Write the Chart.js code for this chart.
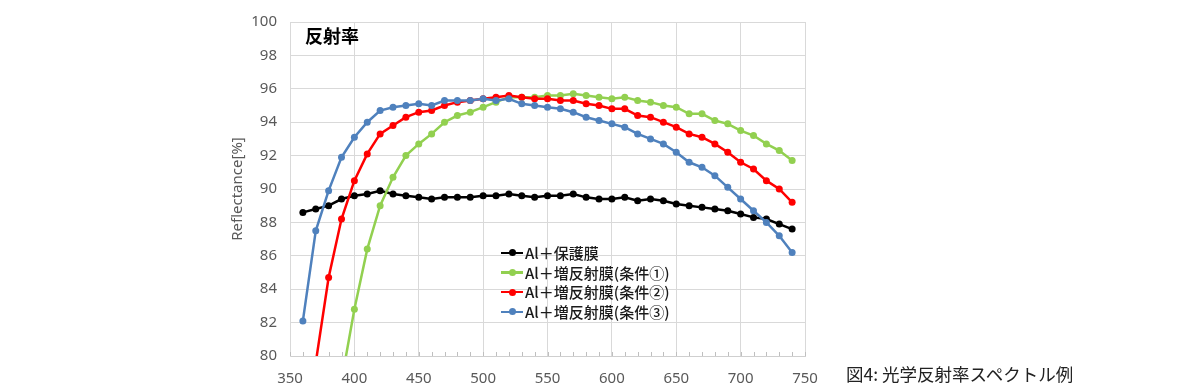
<!DOCTYPE html>
<html>
<head>
<meta charset="utf-8">
<script src="https://cdn.jsdelivr.net/npm/chart.js@4.4.0/dist/chart.umd.min.js"></script>
<style>
    body { margin: 0; background: #ffffff; }
    #wrap { position: relative; width: 1200px; height: 390px; }
    #plotTitle { position: absolute; left: 305px; top: 22px; font: bold 18px "Noto Sans CJK JP"; color: #000; }
    #caption { position: absolute; left: 846px; top: 361px; font: 17.5px "Noto Sans CJK JP"; color: #222; }
    #legend { position: absolute; left: 501px; top: 243px; font: 500 15px "Noto Sans CJK JP"; color: #1a1a1a; }
    .item { height: 19.7px; line-height: 19.7px; white-space: nowrap; }
    .mark { display: inline-block; position: relative; width: 22px; height: 19.7px; vertical-align: top; margin-right: 2px; }
    .mark .ln { position: absolute; left: 0; right: 0; top: 8.6px; height: 2.5px; }
    .mark .dot { position: absolute; left: 7.5px; top: 6.4px; width: 7px; height: 7px; border-radius: 50%; }
</style>
</head>
<body>
<div id="wrap">
    <canvas id="chart"></canvas>
    <div id="plotTitle">反射率</div>
    <div id="legend"></div>
    <div id="caption">図4: 光学反射率スペクトル例</div>
</div>
<script>
// wavelength [nm]
var wavelengths = [360, 370, 380, 390, 400, 410, 420, 430, 440, 450,
    460, 470, 480, 490, 500, 510, 520, 530, 540, 550,
    560, 570, 580, 590, 600, 610, 620, 630, 640, 650,
    660, 670, 680, 690, 700, 710, 720, 730, 740];

var seriesNames = ["Al＋保護膜", "Al＋増反射膜(条件①)", "Al＋増反射膜(条件②)", "Al＋増反射膜(条件③)"];
var seriesColors = ["#000000", "#92d050", "#ff0000", "#4f81bd"];

var protect = [88.6, 88.8, 89.0, 89.4, 89.6, 89.7, 89.9, 89.7, 89.6, 89.5,
    89.4, 89.5, 89.5, 89.5, 89.6, 89.6, 89.7, 89.6, 89.5, 89.6,
    89.6, 89.7, 89.5, 89.4, 89.4, 89.5, 89.3, 89.4, 89.3, 89.1,
    89.0, 88.9, 88.8, 88.7, 88.5, 88.3, 88.2, 87.9, 87.6];
var cond1 = [null, null, null, 78.5, 82.8, 86.4, 89.0, 90.7, 92.0, 92.7,
    93.3, 94.0, 94.4, 94.6, 94.9, 95.2, 95.5, 95.5, 95.5, 95.6,
    95.6, 95.7, 95.6, 95.5, 95.4, 95.5, 95.3, 95.2, 95.0, 94.9,
    94.5, 94.5, 94.1, 93.9, 93.5, 93.2, 92.7, 92.3, 91.7];
var cond2 = [null, 79.6, 84.7, 88.2, 90.5, 92.1, 93.3, 93.8, 94.3, 94.6,
    94.7, 95.0, 95.2, 95.3, 95.4, 95.5, 95.6, 95.5, 95.4, 95.4,
    95.3, 95.3, 95.1, 95.0, 94.8, 94.8, 94.4, 94.3, 94.0, 93.7,
    93.3, 93.1, 92.7, 92.2, 91.6, 91.2, 90.5, 90.0, 89.2];
var cond3 = [82.1, 87.5, 89.9, 91.9, 93.1, 94.0, 94.7, 94.9, 95.0, 95.1,
    95.0, 95.3, 95.3, 95.3, 95.4, 95.3, 95.4, 95.1, 95.0, 94.9,
    94.8, 94.6, 94.3, 94.1, 93.9, 93.7, 93.3, 93.0, 92.7, 92.2,
    91.6, 91.3, 90.8, 90.1, 89.4, 88.7, 88.0, 87.2, 86.2];

var seriesValues = [protect, cond1, cond2, cond3];

var datasets = [];
for (var i = 0; i < seriesValues.length; i++) {
    datasets.push({
        label: seriesNames[i],
        data: wavelengths.map(function (w, j) { return { x: w, y: seriesValues[i][j] }; }),
        borderColor: seriesColors[i],
        backgroundColor: seriesColors[i],
        borderWidth: 2.5,
        pointRadius: 3.5,
        pointHoverRadius: 3.5,
        pointBorderWidth: 0,
        clip: 0,
        order: seriesValues.length - i   // later series drawn on top, like Excel
    });
}

// legend inside the plot
var legendHtml = "";
for (var k = 0; k < seriesNames.length; k++) {
    legendHtml += '<div class="item"><span class="mark"><span class="ln" style="background:' + seriesColors[k] +
        '"></span><span class="dot" style="background:' + seriesColors[k] + '"></span></span>' + seriesNames[k] + '</div>';
}
document.getElementById("legend").innerHTML = legendHtml;

// small tick marks on the inside of the x axis, every 10 nm
var innerTicks = {
    id: "innerTicks",
    beforeDatasetsDraw: function (chart) {
        var ctx = chart.ctx, xs = chart.scales.x, bottom = chart.chartArea.bottom;
        ctx.save();
        ctx.strokeStyle = "#bfbfbf";
        ctx.lineWidth = 1;
        ctx.beginPath();
        xs.ticks.forEach(function (t) {
            var px = Math.round(xs.getPixelForValue(t.value)) + 0.5;
            ctx.moveTo(px, bottom - 4);
            ctx.lineTo(px, bottom);
        });
        ctx.stroke();
        ctx.restore();
    }
};

var tickFont = { family: "Noto Sans", size: 15 };

new Chart(document.getElementById("chart"), {
    type: "line",
    data: { datasets: datasets },
    options: {
        responsive: true,
        maintainAspectRatio: false,
        animation: false,
        layout: { padding: { left: 225, top: 15, right: 395, bottom: 0 } },
        plugins: { legend: { display: false }, tooltip: { enabled: false } },
        scales: {
            x: {
                type: "linear",
                min: 350,
                max: 750,
                afterFit: function (s) { s.height = 34; },
                ticks: {
                    stepSize: 10,
                    autoSkip: false,
                    maxRotation: 0,
                    padding: 14,
                    color: "#595959",
                    font: tickFont,
                    callback: function (v) { return v % 50 === 0 ? v : ""; }
                },
                grid: {
                    color: function (c) { return c.tick && c.tick.value % 50 === 0 ? "#d9d9d9" : "rgba(0,0,0,0)"; },
                    drawTicks: false
                },
                border: { color: "#cfcfcf" }
            },
            y: {
                min: 80,
                max: 100,
                afterFit: function (s) { s.width = 65; },
                ticks: { stepSize: 2, padding: 13, color: "#595959", font: tickFont },
                grid: { color: "#d9d9d9", drawTicks: false },
                border: { color: "#d9d9d9" },
                title: {
                    display: true,
                    text: "Reflectance[%]",
                    color: "#595959",
                    font: { family: "Noto Sans", size: 15 }
                }
            }
        }
    },
    plugins: [innerTicks]
});
</script>
</body>
</html>
